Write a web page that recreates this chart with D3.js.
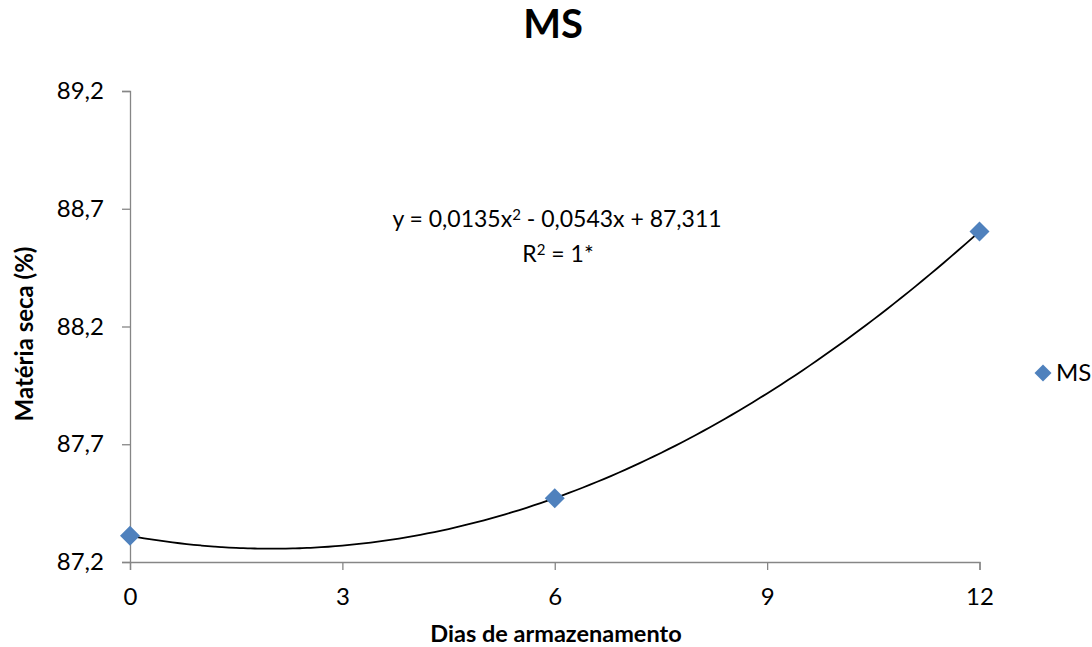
<!DOCTYPE html>
<html>
<head>
<meta charset="utf-8">
<script src="https://cdn.jsdelivr.net/npm/d3@7/dist/d3.min.js"></script>
<style>
  html, body { margin: 0; padding: 0; background: #fff; }
  svg text { font-family: Lato, "Open Sans", sans-serif; fill: #000; }
</style>
</head>
<body>
<svg id="chart" width="1092" height="647"></svg>
<script>
// Storage days and measured dry matter (%)
const days = [0, 6, 12];
const dryMatter = [87.311, 87.471, 88.603];

// Quadratic trend line coefficients: y = a*x^2 + b*x + c
const trendCoef = [0.0135, -0.0543, 87.311];

const xTicks = [0, 3, 6, 9, 12];
const yTicks = [87.2, 87.7, 88.2, 88.7, 89.2];

const seriesName = "MS";
const titleText = "MS";
const xTitle = "Dias de armazenamento";
const yTitle = "Matéria seca (%)";
// Equation pieces: [text, superscript?]
const equationLine1 = [["y = 0,0135x", false], ["2", true], [" - 0,0543x + 87,311", false]];
const equationLine2 = [["R", false], ["2", true], [" = 1*", false]];

const fmt = v => d3.format(".1f")(v).replace(".", ",");
const markerColor = "#4F81BD";
const axisColor = "#868686";

const svg = d3.select("#chart");
const plot = { left: 130, right: 979.5, top: 91, bottom: 562 };

const x = d3.scaleLinear().domain([0, 12]).range([plot.left, plot.right]);
const y = d3.scaleLinear().domain([87.2, 89.2]).range([plot.bottom, plot.top]);

// Title
svg.append("text")
  .attr("x", 553).attr("y", 38)
  .attr("text-anchor", "middle")
  .style("font-size", "40px").style("font-weight", "bold")
  .text(titleText);

// Axes
const yAxis = svg.append("g")
  .attr("transform", `translate(${plot.left},0)`)
  .call(d3.axisLeft(y).tickValues(yTicks).tickFormat(fmt).tickSize(8).tickPadding(18));
const xAxis = svg.append("g")
  .attr("transform", `translate(0,${plot.bottom})`)
  .call(d3.axisBottom(x).tickValues(xTicks).tickFormat(d3.format("d")).tickSize(8).tickPadding(18));

[xAxis, yAxis].forEach(g => {
  g.select(".domain").attr("stroke", axisColor).attr("stroke-width", 1.3);
  g.selectAll(".tick line").attr("stroke", axisColor).attr("stroke-width", 1.3);
  g.selectAll(".tick text")
    .style("font-family", "Lato, 'Open Sans', sans-serif")
    .style("font-size", "24px").attr("fill", "#000");
});

// Axis titles
svg.append("text")
  .attr("x", 556).attr("y", 642)
  .attr("text-anchor", "middle")
  .style("font-size", "23.5px").style("font-weight", "bold")
  .text(xTitle);

svg.append("text")
  .attr("transform", `translate(33,334) rotate(-90)`)
  .attr("text-anchor", "middle")
  .style("font-size", "24px").style("font-weight", "bold")
  .text(yTitle);

// Trend line from the fitted polynomial
const poly = t => trendCoef[0] * t * t + trendCoef[1] * t + trendCoef[2];
const trendPts = d3.range(0, 12.0001, 0.1).map(t => [t, poly(t)]);
svg.append("path")
  .datum(trendPts)
  .attr("fill", "none")
  .attr("stroke", "#000")
  .attr("stroke-width", 1.8)
  .attr("d", d3.line().x(d => x(d[0])).y(d => y(d[1])).curve(d3.curveMonotoneX));

// Data markers
const diamondPath = s => `M0,${-s}L${s},0L0,${s}L${-s},0Z`;
svg.append("g").selectAll("path")
  .data(days.map((d, i) => [d, dryMatter[i]]))
  .join("path")
  .attr("transform", d => `translate(${x(d[0])},${y(d[1])})`)
  .attr("d", diamondPath(10))
  .attr("fill", markerColor);

// Trend equation with superscripts
function eqText(parts, cx, cy) {
  const t = svg.append("text")
    .attr("x", cx).attr("y", cy)
    .attr("text-anchor", "middle")
    .style("font-size", "23px");
  parts.forEach(([s, sup]) => {
    t.append("tspan")
      .attr("baseline-shift", sup ? "45%" : null)
      .style("font-size", sup ? "15px" : null)
      .text(s);
  });
}
eqText(equationLine1, 557, 227);
eqText(equationLine2, 558, 262);

// Legend
svg.append("path")
  .attr("transform", "translate(1043,373)")
  .attr("d", diamondPath(8.5))
  .attr("fill", markerColor);
svg.append("text")
  .attr("x", 1056).attr("y", 381)
  .style("font-size", "24px")
  .text(seriesName);
</script>
</body>
</html>
